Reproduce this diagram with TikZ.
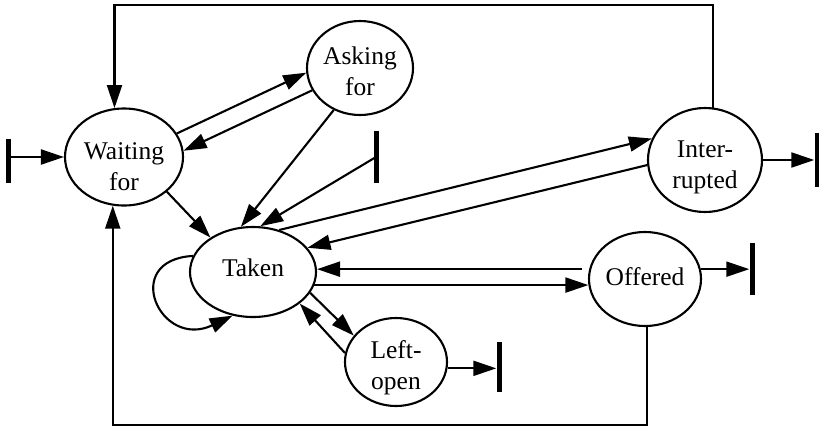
\documentclass[tikz,border=0pt]{standalone}
\usepackage{fontspec}
\setmainfont{Liberation Serif}
\usetikzlibrary{shapes.geometric,arrows.meta}
\begin{document}
\begin{tikzpicture}[x=1pt,y=-1pt,
  state/.style={draw, ellipse, line width=2.1pt, inner sep=0pt},
  lbl/.style={font=\fontsize{25.5}{31}\selectfont, align=center, inner sep=0pt},
  conn/.style={line width=2.1pt, -{Triangle[length=23pt,width=15pt]}},
  bar/.style={fill=black, draw=none, inner sep=0pt, minimum width=5pt}]
\useasboundingbox (0,0) rectangle (819,429);

% states
\node[state, minimum width=118pt, minimum height=97pt]  (w) at (124,157) {};
\node[state, minimum width=106pt, minimum height=94pt]  (a) at (360,68)  {};
\node[state, minimum width=114pt, minimum height=104pt] (i) at (705,160) {};
\node[state, minimum width=126pt, minimum height=90pt]  (t) at (253,272) {};
\node[state, minimum width=112pt, minimum height=94pt]  (o) at (645,279) {};
\node[state, minimum width=102pt, minimum height=88pt]  (l) at (396,362) {};

% state names
\node[lbl] (wt) at (124,167) {Waiting\\for};
\node[lbl] (at) at (360,71)  {Asking\\for};
\node[lbl] (it) at (705,167) {Inter-\\rupted};
\node[lbl] (tt) at (253,268) {Taken};
\node[lbl] (ot) at (645,277) {Offered};
\node[lbl] (lt) at (396,368) {Left-\\open};

% start / end bars
\node[bar, minimum height=44pt] (b1) at (8,161)   {};
\node[bar, minimum height=54pt] (b2) at (817,160) {};
\node[bar, minimum height=52pt] (b3) at (752,269) {};
\node[bar, minimum height=50pt] (b4) at (499,367) {};
\node[bar, minimum height=52pt] (b5) at (376,157) {};

\coordinate (top) at (0,5);
\coordinate (bot) at (0,425);

% outer return paths
\draw[conn] (i.81) -- (i.81 |- top) -| (w.101);
\draw[conn] (o.272) -- (o.272 |- bot) -| (w.257);

% entry and exit transitions
\draw[conn] (b1.east |- w.west) -- (w.west);
\draw[conn] (i.east) -- (i.east -| b2.west);
\draw[conn] (o.10) -- (o.10 -| b3.west);
\draw[conn] (l.353) -- (l.353 -| b4.west);
\draw[conn] (b5.center) -- (t.81);

% transitions between states
\draw[conn] (w.24) -- (a.185);
\draw[conn] (a.205) -- (w.6);
\draw[conn] (w.321) -- (t.141);
\draw[conn] (a.238) -- (t.105);
\draw[conn] (t.58) -- (i.158);
\draw[conn] (i.185) -- (t.24);
\draw[conn, shorten <=7pt] (o.170) -- (o.170 -| t.east);
\draw[conn] (t.348) -- (t.348 -| o.186);
\draw[conn] (t.340) -- (l.148);
\draw[conn] (l.170) -- (t.326);
\draw[conn] (t.165) .. controls (120,260) and (160,350) .. (t.245);
\end{tikzpicture}
\end{document}
